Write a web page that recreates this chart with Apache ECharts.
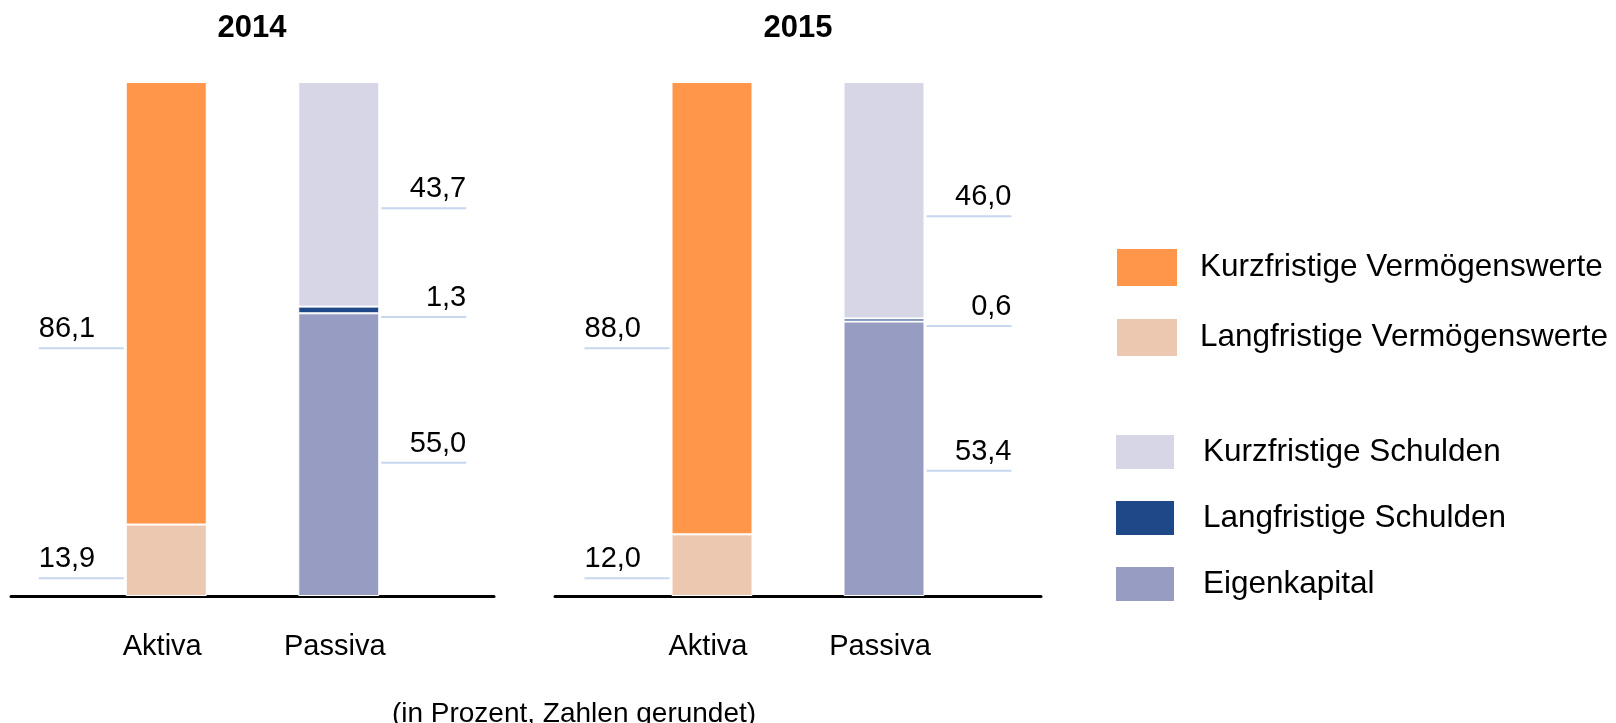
<!DOCTYPE html>
<html>
<head>
<meta charset="utf-8">
<script src="https://cdn.jsdelivr.net/npm/echarts@6/dist/echarts.min.js"></script>
<style>
html,body{margin:0;padding:0;background:#fff;}
#chart{width:1616px;height:723px;}
</style>
</head>
<body>
<div id="chart"></div>
<script>
// ---- data ----
const years = ['2014', '2015'];
const categories = ['Aktiva', 'Passiva'];
const kurzVermoegen = [86.1, 88.0];   // Kurzfristige Vermögenswerte (Aktiva)
const langVermoegen = [13.9, 12.0];   // Langfristige Vermögenswerte (Aktiva)
const kurzSchulden  = [43.7, 46.0];   // Kurzfristige Schulden (Passiva)
const langSchulden  = [1.3, 0.6];     // Langfristige Schulden (Passiva)
const eigenkapital  = [55.0, 53.4];   // Eigenkapital (Passiva)
const footnote = '(in Prozent, Zahlen gerundet)';

// ---- styling ----
const FONT = '"Liberation Sans", Arial, Helvetica, sans-serif';
const colors = {
  'Kurzfristige Vermögenswerte': '#FF964A',
  'Langfristige Vermögenswerte': '#EDC8B0',
  'Kurzfristige Schulden': '#D6D6E7',
  'Langfristige Schulden': '#1F4888',
  'Eigenkapital': '#979CC3'
};
const leaderColor = '#C6D7EF';
// vertical label shifts (style only), per year
const shifts = {
  'Kurzfristige Vermögenswerte': [27, 22],
  'Langfristige Vermögenswerte': [0, -5],
  'Kurzfristige Schulden': [-4, -2],
  'Langfristige Schulden': [-11, -12],
  'Eigenkapital': [-10, -6]
};
const grids = [
  {left: 80, width: 345, top: 82, height: 514},
  {left: 626, width: 344, top: 82, height: 514}
];
const baseGrids = [
  {left: 11, width: 483, top: 82, height: 514},
  {left: 555, width: 486, top: 82, height: 514}
];

function fmtNum(v) { return v.toFixed(1).replace('.', ','); }

function makeSeries(name, values, catIdx, yi) {
  const side = catIdx === 0 ? 'left' : 'right';
  const data = categories.map((c, i) => i === catIdx ? values[yi] : '-');
  return {
    type: 'bar',
    name: name,
    xAxisIndex: yi,
    yAxisIndex: yi,
    stack: 'total' + yi,
    barWidth: 81,
    data: data,
    itemStyle: {color: colors[name], borderColor: '#fff', borderWidth: 1},
    emphasis: {disabled: true},
    label: {
      show: true,
      position: side,
      distance: 2,
      offset: [0, shifts[name][yi]],
      formatter: (p) => '{v|' + fmtNum(p.value) + '}\n{l| }',
      rich: {
        v: {fontSize: 29, fontFamily: FONT, color: '#000', lineHeight: 36, width: 85,
            align: side === 'left' ? 'left' : 'right', padding: side === 'left' ? [0,0,0,2] : [0,1,0,0]},
        l: {fontSize: 2, lineHeight: 2, height: 2, width: 85, backgroundColor: leaderColor}
      }
    }
  };
}

const series = [];
years.forEach((y, yi) => {
  series.push(makeSeries('Langfristige Vermögenswerte', langVermoegen, 0, yi));
  series.push(makeSeries('Kurzfristige Vermögenswerte', kurzVermoegen, 0, yi));
  series.push(makeSeries('Eigenkapital', eigenkapital, 1, yi));
  series.push(makeSeries('Langfristige Schulden', langSchulden, 1, yi));
  series.push(makeSeries('Kurzfristige Schulden', kurzSchulden, 1, yi));
});

const xAxes = [], yAxes = [];
grids.forEach((g, i) => {
  xAxes.push({
    gridIndex: i, type: 'category', data: categories,
    axisLine: {show: false}, axisTick: {show: false},
    axisLabel: {fontSize: 29, fontFamily: FONT, color: '#000', margin: 36, padding: [0, 8, 0, 0]}
  });
  yAxes.push({gridIndex: i, type: 'value', min: 0, max: 100, show: false});
});
baseGrids.forEach((g, i) => {
  xAxes.push({
    gridIndex: 2 + i, type: 'value', min: 0, max: 1,
    axisLine: {show: true, onZero: false, lineStyle: {color: '#000', width: 3}},
    axisTick: {show: false}, axisLabel: {show: false}, splitLine: {show: false}
  });
  yAxes.push({gridIndex: 2 + i, type: 'value', min: 0, max: 1, show: false});
});

const chart = echarts.init(document.getElementById('chart'), null, {renderer: 'canvas'});
chart.setOption({
  backgroundColor: '#fff',
  animation: false,
  title: [
    {text: years[0], left: 247, top: 8, textAlign: 'center',
     textStyle: {fontSize: 31, fontWeight: 'bold', fontFamily: FONT, color: '#000'}},
    {text: years[1], left: 793, top: 8, textAlign: 'center',
     textStyle: {fontSize: 31, fontWeight: 'bold', fontFamily: FONT, color: '#000'}},
    {text: footnote, left: 569, top: 695, textAlign: 'center',
     textStyle: {fontSize: 28, fontWeight: 'normal', fontFamily: FONT, color: '#000'}}
  ],
  legend: [
    {orient: 'vertical', left: 1115, top: 247, padding: 0, itemWidth: 62, itemHeight: 39, itemGap: 29,
     icon: 'rect', selectedMode: false,
     data: ['Kurzfristige Vermögenswerte', 'Langfristige Vermögenswerte'],
     textStyle: {fontSize: 31.5, fontFamily: FONT, color: '#000', padding: [0,0,0,17]}},
    {orient: 'vertical', left: 1114, top: 433, padding: 0, itemWidth: 60, itemHeight: 36, itemGap: 28,
     icon: 'rect', selectedMode: false,
     data: ['Kurzfristige Schulden', 'Langfristige Schulden', 'Eigenkapital'],
     textStyle: {fontSize: 31.5, fontFamily: FONT, color: '#000', padding: [0,0,0,23]}}
  ],
  grid: grids.concat(baseGrids),
  xAxis: xAxes,
  yAxis: yAxes,
  series: series
});
</script>
</body>
</html>
